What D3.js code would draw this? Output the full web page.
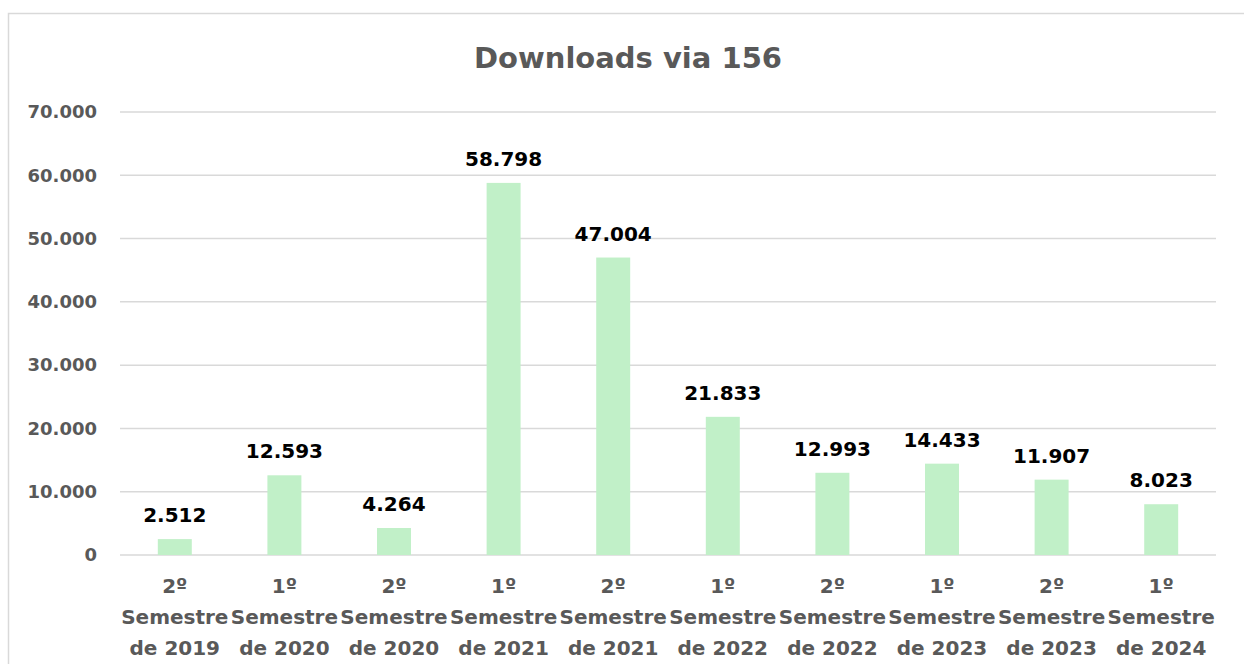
<!DOCTYPE html>
<html><head><meta charset="utf-8">
<script src="https://cdn.jsdelivr.net/npm/d3@7"></script>
<style>body{margin:0;background:#fff;} svg{display:block;font-family:"DejaVu Sans",sans-serif;}</style>
</head><body><svg id="c" width="1244" height="664"></svg>
<script>
const categories = [
  ["2º","Semestre","de 2019"],["1º","Semestre","de 2020"],["2º","Semestre","de 2020"],
  ["1º","Semestre","de 2021"],["2º","Semestre","de 2021"],["1º","Semestre","de 2022"],
  ["2º","Semestre","de 2022"],["1º","Semestre","de 2023"],["2º","Semestre","de 2023"],
  ["1º","Semestre","de 2024"]
];
const values = [2512, 12593, 4264, 58798, 47004, 21833, 12993, 14433, 11907, 8023];
const yTicks = [0,10000,20000,30000,40000,50000,60000,70000];
const title = "Downloads via 156";

const svg = d3.select("#c");
const fmt = v => v === 0 ? "0" : d3.format(",")(v).replace(/,/g, ".");
const keys = categories.map((c,i)=>i);
const x = d3.scaleBand().domain(keys).range([120,1216]).paddingInner(0.69).paddingOuter(0.345);
const y = d3.scaleLinear().domain([0,70000]).range([555,112]);

svg.append("rect").attr("x",8.5).attr("y",13.5).attr("width",1250).attr("height",700)
  .attr("fill","#fff").attr("stroke","#d9d9d9").attr("stroke-width",1.5);

svg.append("text").attr("x",628).attr("y",68).attr("text-anchor","middle")
  .attr("font-size",29).attr("font-weight","bold").attr("fill","#595959").text(title);

svg.append("g").selectAll("line").data(yTicks).join("line")
  .attr("x1",120).attr("x2",1216).attr("y1",d=>y(d)).attr("y2",d=>y(d))
  .attr("stroke","#d9d9d9").attr("stroke-width",1.5);

svg.append("g").selectAll("text").data(yTicks).join("text")
  .attr("x",97).attr("y",d=>y(d)).attr("dy","0.35em").attr("text-anchor","end")
  .attr("font-size",18).attr("font-weight","bold").attr("fill","#595959").text(fmt);

svg.append("g").selectAll("rect").data(values).join("rect")
  .attr("x",(d,i)=>x(i)).attr("width",x.bandwidth())
  .attr("y",d=>y(d)).attr("height",d=>y(0)-y(d)).attr("fill","#c1f0c8");

svg.append("g").selectAll("text").data(values).join("text")
  .attr("x",(d,i)=>x(i)+x.bandwidth()/2).attr("y",d=>y(d)-17)
  .attr("text-anchor","middle").attr("font-size",20).attr("font-weight","bold").attr("fill","#000").text(fmt);

const xl = svg.append("g").selectAll("text").data(categories).join("text")
  .attr("x",(d,i)=>x(i)+x.bandwidth()/2).attr("y",593)
  .attr("text-anchor","middle").attr("font-size",20).attr("font-weight","bold").attr("fill","#595959");
xl.selectAll("tspan").data(d=>d).join("tspan")
  .attr("x",function(){return d3.select(this.parentNode).attr("x");})
  .attr("dy",(d,i)=>i===0?0:31).text(d=>d);
</script></body></html>
